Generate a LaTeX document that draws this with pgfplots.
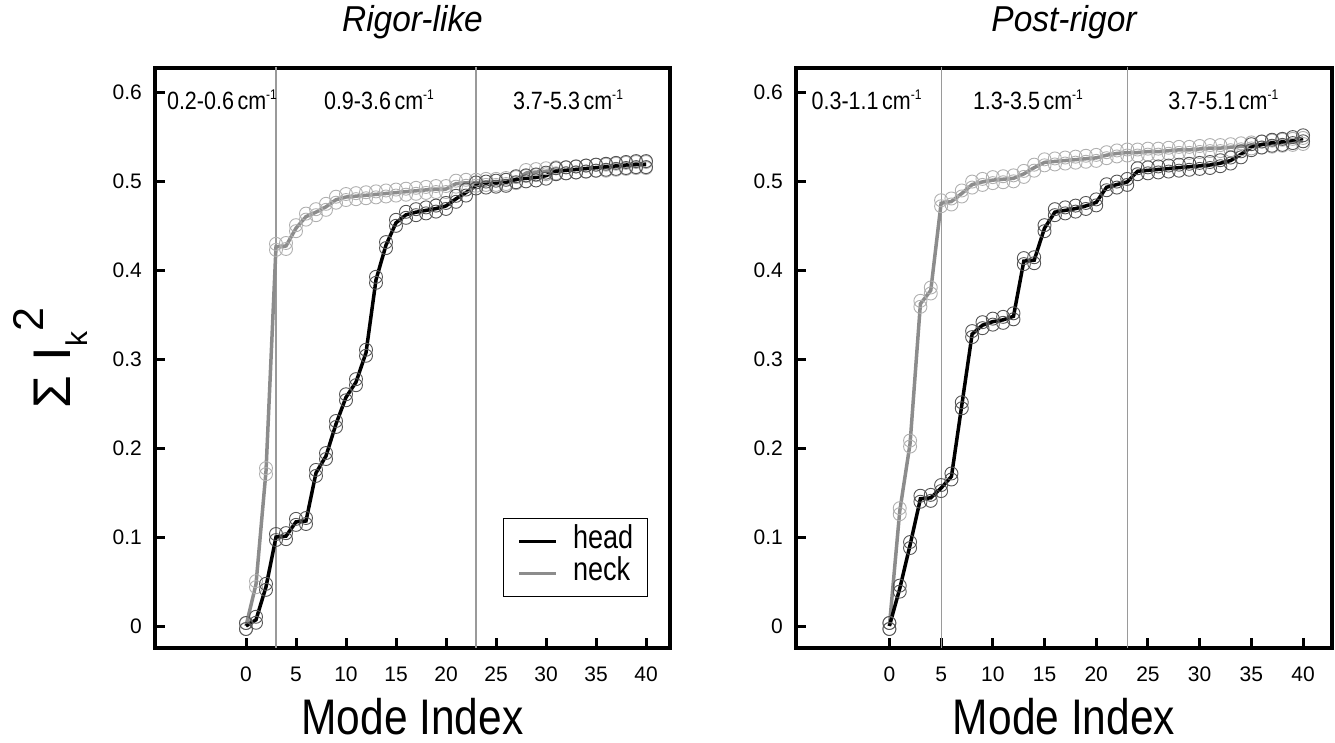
\documentclass[border=0pt]{standalone}
\usepackage{fontspec}
\setmainfont{Liberation Sans}
\usepackage{graphicx}
\usepackage{pgfplots}
\usepackage{pgfplotstable}
\pgfplotsset{compat=1.18}
\newcommand\fs[1]{\fontsize{#1}{#1}\selectfont}
\definecolor{neckline}{HTML}{8C8C8C}
\definecolor{neckmark}{HTML}{B0B0B0}
\definecolor{headmark}{HTML}{555555}
\definecolor{sepline}{HTML}{9A9A9A}

\pgfplotstableread{
x head neck
0 0.000 0.000
1 0.007 0.047
2 0.044 0.174
3 0.100 0.426
4 0.101 0.427
5 0.117 0.447
6 0.118 0.460
7 0.172 0.465
8 0.191 0.471
9 0.227 0.479
10 0.257 0.482
11 0.274 0.483
12 0.307 0.484
13 0.389 0.485
14 0.428 0.486
15 0.453 0.487
16 0.462 0.488
17 0.465 0.489
18 0.467 0.490
19 0.469 0.491
20 0.472 0.491
21 0.480 0.497
22 0.487 0.498
23 0.495 0.498
24 0.496 0.499
25 0.497 0.499
26 0.498 0.500
27 0.502 0.501
28 0.503 0.509
29 0.504 0.510
30 0.506 0.511
31 0.511 0.512
32 0.512 0.512
33 0.513 0.513
34 0.514 0.514
35 0.515 0.515
36 0.516 0.515
37 0.517 0.516
38 0.518 0.517
39 0.519 0.518
40 0.519 0.518
}\rigor

\pgfplotstableread{
x head neck
0 0.000 0.000
1 0.042 0.129
2 0.091 0.205
3 0.143 0.362
4 0.144 0.377
5 0.155 0.475
6 0.168 0.477
7 0.248 0.486
8 0.328 0.496
9 0.338 0.499
10 0.342 0.501
11 0.344 0.502
12 0.348 0.503
13 0.410 0.508
14 0.411 0.515
15 0.447 0.521
16 0.465 0.522
17 0.467 0.523
18 0.469 0.524
19 0.472 0.525
20 0.476 0.526
21 0.493 0.529
22 0.496 0.531
23 0.499 0.532
24 0.511 0.532
25 0.512 0.533
26 0.513 0.533
27 0.514 0.534
28 0.515 0.535
29 0.516 0.535
30 0.517 0.536
31 0.518 0.537
32 0.520 0.537
33 0.523 0.538
34 0.530 0.539
35 0.538 0.540
36 0.541 0.541
37 0.543 0.542
38 0.544 0.543
39 0.546 0.544
40 0.548 0.545
}\post

\pgfplotsset{
  panel/.style={
    scale only axis, height=580pt,
    ymin=-0.0247, ymax=0.627,
    ytick={0,0.1,0.2,0.3,0.4,0.5,0.6},
    xtick={0,5,10,15,20,25,30,35,40},
    tick align=inside, xtick pos=bottom, ytick pos=left,
    major tick length=10pt,
    every tick/.style={black, line width=3pt},
    axis line style={line width=4pt},
    /pgf/number format/assume math mode=true,
    tick label style={font=\fs{21}},
    yticklabel style={anchor=east, inner sep=0pt, xshift=-13pt},
    xticklabel style={anchor=base, inner sep=0pt, yshift=-34pt},
    title style={at={(0.5,1)}, anchor=base, yshift=30pt, inner sep=0pt, font=\fs{36}\itshape},
    xlabel style={at={(0.5,0)}, anchor=base, yshift=-87pt, inner sep=0pt, font=\fs{50}},
    xlabel={\scalebox{0.85}[1]{Mode Index}},
  },
  marksH/.style={only marks, mark=o, mark size=6.5pt, mark options={draw=headmark, line width=0.9pt, yshift=#1}, forget plot},
  marksN/.style={only marks, mark=o, mark size=6.5pt, mark options={draw=neckmark, line width=0.9pt, yshift=#1}, forget plot},
  lineH/.style={black, line width=3.5pt, no marks, forget plot},
  lineN/.style={neckline, line width=3.5pt, no marks, forget plot},
  sep/.style={sepline, line width=1.2pt, forget plot},
}
\newcommand\region[3]{\node[anchor=base, font=\fs{25}, inner sep=0pt] at (axis cs:#1,#2) {\scalebox{0.86}[1]{#3\,cm\raisebox{0.42em}{\fs{14}-1}}};}

\begin{document}
\begin{tikzpicture}
\useasboundingbox (0,0) rectangle (1335pt,743pt);

\begin{axis}[panel, at={(155pt,95pt)}, anchor=south west, width=515pt,
  xmin=-9.1, xmax=42.4,
  title={\scalebox{0.93}[1]{Rigor-like}},
  ylabel={\fs{53}Σ I\raisebox{-17pt}{\fs{30}k}\raisebox{27pt}{\fs{43}2}},
  ylabel style={at={(axis description cs:-0.165,0.5)}, anchor=base},
  legend style={at={(0.957,0.088)}, anchor=south east, draw=black, line width=1.2pt,
    font=\fs{33}, inner xsep=14pt, inner ysep=7pt, row sep=0pt, column sep=15pt,
    nodes={inner sep=0pt, text height=23pt, text depth=9pt}},
  legend cell align=left,
  legend image code/.code={\draw[#1] (0pt,0pt) -- (37pt,0pt);},
]
\addplot[sep] coordinates {(3,-0.1) (3,1)};
\addplot[sep] coordinates {(23,-0.1) (23,1)};
\addplot[marksN=3pt] table[x=x, y=neck] {\rigor};
\addplot[marksN=-3pt] table[x=x, y=neck] {\rigor};
\addplot[marksH=3pt] table[x=x, y=head] {\rigor};
\addplot[marksH=-3pt] table[x=x, y=head] {\rigor};
\addplot[lineN] table[x=x, y=neck] {\rigor};
\addplot[lineH] table[x=x, y=head] {\rigor};
\addlegendimage{black, line width=3.5pt}
\addlegendentry{\scalebox{0.82}[1]{head}}
\addlegendimage{neckline, line width=3.5pt}
\addlegendentry{\scalebox{0.82}[1]{neck}}
\region{-2.4}{0.58}{0.2-0.6}
\region{13.3}{0.58}{0.9-3.6}
\region{32.2}{0.58}{3.7-5.3}
\end{axis}

\begin{axis}[panel, at={(796pt,95pt)}, anchor=south west, width=536pt,
  xmin=-9.03, xmax=42.8,
  title={\scalebox{0.93}[1]{Post-rigor}},
]
\addplot[sep] coordinates {(5,-0.1) (5,1)};
\addplot[sep] coordinates {(23,-0.1) (23,1)};
\addplot[marksN=3pt] table[x=x, y=neck] {\post};
\addplot[marksN=-3pt] table[x=x, y=neck] {\post};
\addplot[marksH=3pt] table[x=x, y=head] {\post};
\addplot[marksH=-3pt] table[x=x, y=head] {\post};
\addplot[lineN] table[x=x, y=neck] {\post};
\addplot[lineH] table[x=x, y=head] {\post};
\region{-2.2}{0.58}{0.3-1.1}
\region{13.4}{0.58}{1.3-3.5}
\region{32.3}{0.58}{3.7-5.1}
\end{axis}
\end{tikzpicture}
\end{document}
